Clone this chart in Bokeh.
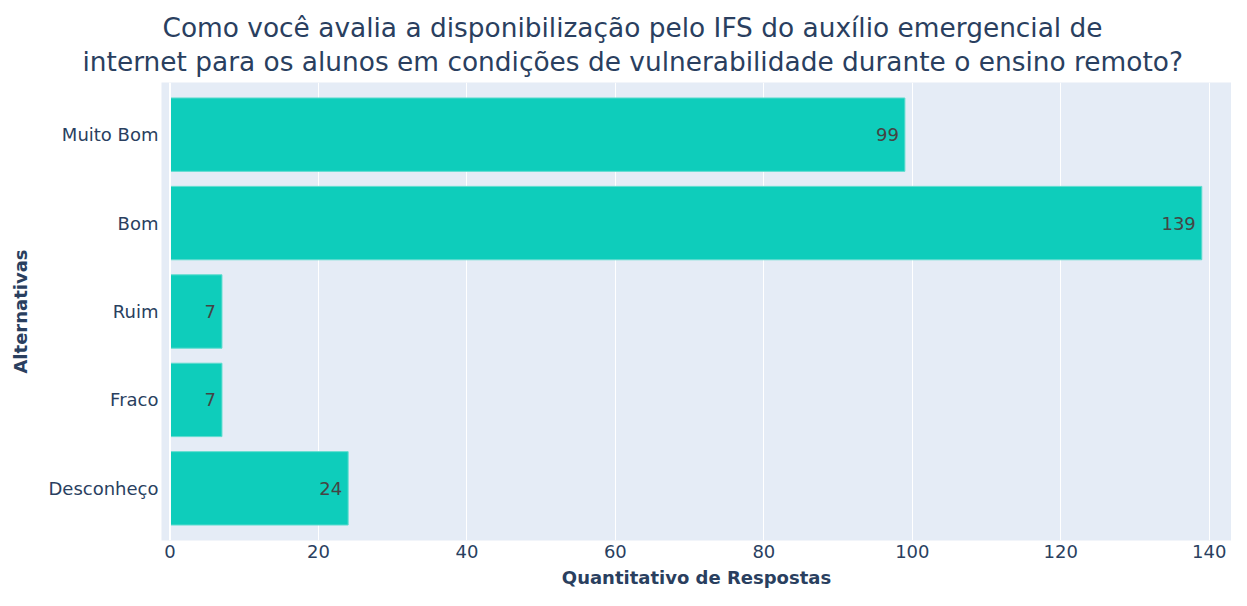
from bokeh.plotting import figure
from bokeh.models import ColumnDataSource, FactorRange, Range1d, Title, Span, FixedTicker
from bokeh.core.properties import value
from bokeh.embed import file_html
from bokeh.resources import INLINE

categories = ["Muito Bom", "Bom", "Ruim", "Fraco", "Desconheço"]
counts = [99, 139, 7, 7, 24]
x_ticks = [0, 20, 40, 60, 80, 100, 120, 140]
title_line1 = "Como você avalia a disponibilização pelo IFS do auxílio emergencial de"
title_line2 = "internet para os alunos em condições de vulnerabilidade durante o ensino remoto?"

FONT = "DejaVu Sans"
TXT = "#2a3f5f"

src = ColumnDataSource(dict(cat=categories, n=counts, lbl=[str(v) for v in counts]))

p = figure(
    width=1231, height=590,
    y_range=FactorRange(factors=categories[::-1], range_padding=0.09, range_padding_units="absolute"),
    x_range=Range1d(-1.145, 143.0),
    output_backend="svg", toolbar_location=None,
    title=" ",
    min_border_left=161, min_border_right=0, min_border_top=0, min_border_bottom=0,
)
# top spacer (outermost title)
p.title.text_font_size = "1px"
p.title.standoff = 6

# spacer between the second title line and the plot area
gap = Title(text=" ", text_font_size="1px", standoff=1)
p.add_layout(gap, "above")
t2 = Title(text=title_line2)
p.add_layout(t2, "above")
t1 = Title(text=title_line1)
p.add_layout(t1, "above")
for t, off, so in ((t1, 1, 0), (t2, -79, 3)):
    t.align = "left"
    t.offset = off
    t.standoff = so
    t.text_font = FONT
    t.text_font_size = "26.4px"
    t.text_font_style = "normal"
    t.text_color = TXT

p.background_fill_color = "#E5ECF6"
p.border_fill_color = "white"
p.outline_line_color = None

p.hbar(y="cat", right="n", left=0, height=0.83, source=src,
       fill_color="#0ecdbb", line_color="#5fdccf", line_width=1)

p.text(x="n", y="cat", text="lbl", source=src, x_offset=-6,
       text_align="right", text_baseline="middle",
       text_font=value(FONT), text_font_size="18px", text_color="#444444")

p.add_layout(Span(location=0, dimension="height", line_color="white", line_width=2))

p.xgrid.grid_line_color = "white"
p.xgrid.grid_line_width = 1
p.ygrid.grid_line_color = None
p.xaxis.ticker = FixedTicker(ticks=x_ticks)

for ax in (p.xaxis[0], p.yaxis[0]):
    ax.axis_line_color = None
    ax.major_tick_line_color = None
    ax.minor_tick_line_color = None
    ax.major_tick_out = 0
    ax.major_tick_in = 0
    ax.minor_tick_out = 0
    ax.major_label_text_font = FONT
    ax.major_label_text_font_size = "18px"
    ax.major_label_text_color = TXT
    ax.axis_label_text_font = FONT
    ax.axis_label_text_font_size = "18px"
    ax.axis_label_text_font_style = "bold"
    ax.axis_label_text_color = TXT

p.xaxis.axis_label = "Quantitativo de Respostas"
p.yaxis.axis_label = "Alternativas"
p.xaxis.major_label_standoff = 4
p.xaxis.axis_label_standoff = 6
p.yaxis.major_label_standoff = 3
p.yaxis.axis_label_standoff = 14

open("out.html", "w").write(file_html(p, INLINE))
